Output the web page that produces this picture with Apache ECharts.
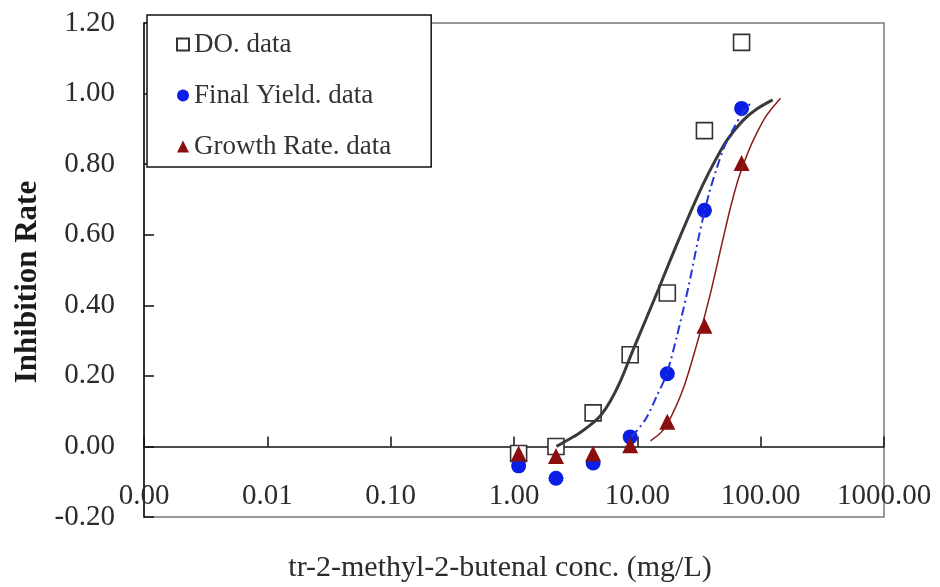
<!DOCTYPE html>
<html>
<head>
<meta charset="utf-8">
<script src="https://cdn.jsdelivr.net/npm/echarts@6/dist/echarts.min.js"></script>
<style>
  html, body { margin: 0; padding: 0; background: #ffffff; }
  #chart { width: 940px; height: 587px; }
</style>
</head>
<body>
<div id="chart"></div>
<script>
// Test concentrations (mg/L)
const conc = [1.09, 2.19, 4.38, 8.75, 17.5, 35, 70];

// Measured inhibition rates
const doValues    = [-0.02, 0.00, 0.095, 0.26, 0.435, 0.895, 1.145];
const yieldValues = [-0.055, -0.09, -0.047, 0.027, 0.206, 0.669, 0.958];
const rateValues  = [-0.02, -0.027, -0.02, 0.003, 0.07, 0.342, 0.803];

// Fitted dose-response curves
const doFitX = [2.21, 2.66, 3.33, 4.17, 5.02, 6.05, 7.31, 8.98, 11.7, 14.9, 18.6, 23.3, 28.1, 33.8, 42.0, 53.4, 71.0, 92.9, 125];
const doFitY = [0.0, 0.016, 0.036, 0.061, 0.087, 0.129, 0.186, 0.263, 0.359, 0.447, 0.530, 0.612, 0.678, 0.740, 0.805, 0.868, 0.922, 0.956, 0.982];

const yieldFitX = [8.98, 11.7, 14.3, 17.3, 21.2, 26.1, 31.4, 37.8, 44.0, 51.0, 60.4, 71.5, 86.1];
const yieldFitY = [0.027, 0.078, 0.141, 0.206, 0.320, 0.456, 0.592, 0.712, 0.788, 0.851, 0.902, 0.945, 0.979];

const rateFitX = [12.8, 15.4, 17.6, 23.7, 32.6, 39.3, 49.2, 57.0, 66.2, 78.4, 92.9, 112, 145];
const rateFitY = [0.016, 0.038, 0.064, 0.166, 0.328, 0.436, 0.584, 0.678, 0.760, 0.831, 0.888, 0.939, 0.987];

// Axis tick labels
const xTickLabels = ['0.00', '0.01', '0.10', '1.00', '10.00', '100.00', '1000.00'];
const yTickLabels = ['-0.20', '0.00', '0.20', '0.40', '0.60', '0.80', '1.00', '1.20'];

const legendNames = ['DO. data', 'Final Yield. data', 'Growth Rate. data'];

const serif = "'Liberation Serif', 'Times New Roman', serif";
const pair = (xs, ys) => xs.map((x, i) => [x, ys[i]]);

const chart = echarts.init(document.getElementById('chart'), null, { renderer: 'canvas' });

chart.setOption({
  animation: false,
  backgroundColor: '#ffffff',
  grid: {
    left: 144, top: 23, width: 740, height: 494,
    containLabel: false, outerBoundsMode: 'none',
    show: true, borderColor: '#7a7a7a', borderWidth: 1.5, backgroundColor: 'transparent'
  },
  legend: {
    left: 147, top: 15, orient: 'vertical',
    padding: [16, 40, 7, 29], itemGap: 24, itemWidth: 12, itemHeight: 12,
    backgroundColor: '#ffffff', borderColor: '#111', borderWidth: 1.5,
    selectedMode: false,
    textStyle: { fontFamily: serif, fontSize: 27, color: '#333', lineHeight: 27 },
    data: legendNames
  },
  xAxis: {
    type: 'log', logBase: 10, min: 0.001, max: 1000,
    // the axis line sits on the y = 0 level, one tick step above the plot's bottom edge
    offset: -70.57,
    axisLine: { show: true, onZero: false, lineStyle: { color: '#111', width: 1.5 } },
    axisTick: { show: true, inside: true, length: 10, lineStyle: { color: '#111', width: 1.5 } },
    axisLabel: {
      margin: 35, interval: 0, fontFamily: serif, fontSize: 29, color: '#2b2b2b',
      formatter: v => xTickLabels[Math.round(Math.log10(v)) + 3]
    },
    splitLine: { show: false },
    minorTick: { show: false },
    name: 'tr-2-methyl-2-butenal conc. (mg/L)',
    nameLocation: 'middle', nameGap: 107,
    nameTextStyle: { fontFamily: serif, fontSize: 30, color: '#2b2b2b', padding: [0, 28, 0, 0] }
  },
  yAxis: {
    type: 'value', min: -0.2, max: 1.2, interval: 0.2,
    axisLine: { show: true, onZero: false, lineStyle: { color: '#111', width: 1.5 } },
    axisTick: { show: true, inside: true, length: 10, lineStyle: { color: '#111', width: 1.5 } },
    axisLabel: {
      margin: 29, fontFamily: serif, fontSize: 29, color: '#2b2b2b',
      formatter: v => yTickLabels[Math.round((v + 0.2) / 0.2)]
    },
    splitLine: { show: false },
    name: 'Inhibition Rate',
    nameLocation: 'middle', nameGap: 100,
    nameTextStyle: { fontFamily: serif, fontSize: 31, fontWeight: 'bold', color: '#1a1a1a', padding: [0, 24, 0, 0] }
  },
  series: [
    {
      name: 'DO. fit', type: 'line', data: pair(doFitX, doFitY),
      smooth: 0.3, symbol: 'none', silent: true,
      lineStyle: { color: '#3a3a3a', width: 3 }
    },
    {
      name: 'Final Yield. fit', type: 'line', data: pair(yieldFitX, yieldFitY),
      smooth: 0.3, symbol: 'none', silent: true,
      lineStyle: { color: '#2336d6', width: 2, type: [9, 4, 2, 4] }
    },
    {
      name: 'Growth Rate. fit', type: 'line', data: pair(rateFitX, rateFitY),
      smooth: 0.3, symbol: 'none', silent: true,
      lineStyle: { color: '#8b1a1a', width: 1.5 }
    },
    {
      name: 'DO. data', type: 'scatter', data: pair(conc, doValues),
      symbol: 'rect', symbolSize: 16,
      itemStyle: { color: '#ffffff', borderColor: '#333', borderWidth: 1.6, opacity: 1 }
    },
    {
      name: 'Final Yield. data', type: 'scatter', data: pair(conc, yieldValues),
      symbol: 'circle', symbolSize: 15,
      itemStyle: { color: '#0b1ee6', opacity: 1 }
    },
    {
      name: 'Growth Rate. data', type: 'scatter', data: pair(conc, rateValues),
      symbol: 'triangle', symbolSize: 16,
      itemStyle: { color: '#8b0e0e', opacity: 1 }
    }
  ]
});
</script>
</body>
</html>
